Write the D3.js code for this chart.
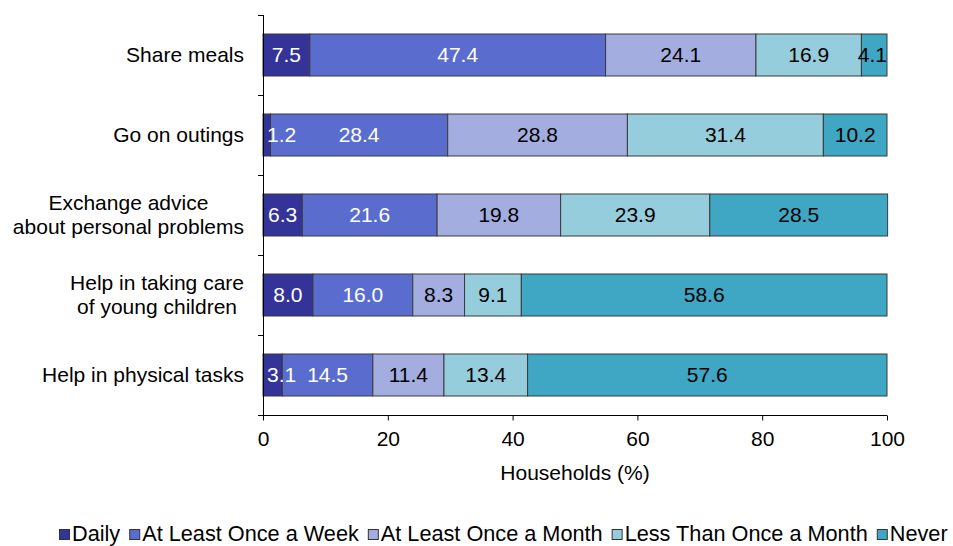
<!DOCTYPE html>
<html>
<head>
<meta charset="utf-8">
<script src="https://cdn.jsdelivr.net/npm/d3@7"></script>
<style>
  html, body { margin: 0; padding: 0; background: #fff; }
  svg { display: block; font-family: Arial, "Liberation Sans", sans-serif; }
</style>
</head>
<body>
<svg id="chart" width="953" height="546"></svg>
<script>
// Activities (top to bottom)
const categories = [
  "Share meals",
  "Go on outings",
  "Exchange advice\nabout personal problems",
  "Help in taking care\nof young children",
  "Help in physical tasks"
];
// Frequency series
const seriesNames = ["Daily", "At Least Once a Week", "At Least Once a Month", "Less Than Once a Month", "Never"];
const daily        = [7.5, 1.2, 6.3, 8.0, 3.1];
const weekly       = [47.4, 28.4, 21.6, 16.0, 14.5];
const monthly      = [24.1, 28.8, 19.8, 8.3, 11.4];
const lessMonthly  = [16.9, 31.4, 23.9, 9.1, 13.4];
const never        = [4.1, 10.2, 28.5, 58.6, 57.6];
const xTicks = [0, 20, 40, 60, 80, 100];

const colors = ["#333399", "#5a6dcf", "#a3addf", "#96cddc", "#3fa6c3"];
const labelColors = ["#fff", "#fff", "#000", "#000", "#000"];

const seriesValues = [daily, weekly, monthly, lessMonthly, never];
const rows = categories.map((c, i) => {
  const r = { cat: c };
  seriesNames.forEach((s, j) => r[s] = seriesValues[j][i]);
  return r;
});
const stacked = d3.stack().keys(seriesNames)(rows);

const svg = d3.select("#chart");
const plotLeft = 263, plotRight = 887, plotTop = 15, plotBottom = 415;
const fs = 21;

const x = d3.scaleLinear().domain([0, 100]).range([plotLeft, plotRight]);
const y = d3.scaleBand().domain(categories).range([plotTop, plotBottom])
  .paddingInner(0.475).paddingOuter(0.2375);

// bars
const g = svg.append("g");
stacked.forEach((layer, j) => {
  g.selectAll(null).data(layer).enter().append("rect")
    .attr("x", d => x(d[0]))
    .attr("y", d => y(d.data.cat))
    .attr("width", d => x(d[1]) - x(d[0]))
    .attr("height", y.bandwidth())
    .attr("fill", colors[j])
    .attr("stroke", "#3a3a3a")
    .attr("stroke-width", 1);
});

// value labels, kept inside the plot area
stacked.forEach((layer, j) => {
  layer.forEach(d => {
    const v = d[1] - d[0];
    const t = g.append("text")
      .attr("y", y(d.data.cat) + y.bandwidth() / 2)
      .attr("dy", "0.35em")
      .attr("font-size", fs)
      .attr("fill", labelColors[j])
      .text(v.toFixed(1));
    const w = t.node().getComputedTextLength();
    const cx = (x(d[0]) + x(d[1])) / 2;
    let tx = cx - w / 2;
    if (tx < plotLeft + 4) tx = plotLeft + 4;
    if (tx + w > plotRight) tx = plotRight - w;
    t.attr("x", tx);
  });
});

// y axis line and ticks at band boundaries
const ax = svg.append("g").attr("stroke", "#000").attr("stroke-width", 1);
ax.append("line").attr("x1", plotLeft + 0.5).attr("x2", plotLeft + 0.5).attr("y1", plotTop).attr("y2", plotBottom);
const step = y.step();
d3.range(categories.length + 1).map(i => plotTop + i * step).forEach(b => {
  ax.append("line").attr("x1", plotLeft - 5).attr("x2", plotLeft).attr("y1", Math.round(b) + 0.5).attr("y2", Math.round(b) + 0.5);
});

// category labels: multi-line blocks centred, block right-aligned to the axis
categories.forEach(c => {
  const lines = c.split("\n");
  const cy = y(c) + y.bandwidth() / 2;
  const lh = 24;
  const texts = lines.map((ln, k) => svg.append("text")
      .attr("y", cy + (k - (lines.length - 1) / 2) * lh)
      .attr("dy", "0.33em")
      .attr("text-anchor", "middle")
      .attr("font-size", fs)
      .attr("fill", "#000")
      .text(ln));
  const maxW = d3.max(texts, t => t.node().getComputedTextLength());
  texts.forEach(t => t.attr("x", 244 - maxW / 2));
});

// x axis
const xAxis = d3.axisBottom(x).tickValues(xTicks).tickSize(5).tickPadding(11).tickFormat(d3.format("d"));
const xg = svg.append("g").attr("transform", `translate(0,${plotBottom + 0.5})`).call(xAxis);
xg.select(".domain").attr("stroke", "#000").attr("d", `M${plotLeft},0H${plotRight}`);
xg.selectAll(".tick line").attr("stroke", "#000");
xg.selectAll(".tick text").attr("font-size", fs).attr("fill", "#000").attr("font-family", "Arial, 'Liberation Sans', sans-serif");

svg.append("text")
  .attr("x", (plotLeft + plotRight) / 2)
  .attr("y", 480)
  .attr("text-anchor", "middle")
  .attr("font-size", fs)
  .attr("fill", "#000")
  .text("Households (%)");

// legend
const lg = svg.append("g");
let lx = 59;
seriesNames.forEach((s, j) => {
  lg.append("rect").attr("x", lx + 0.5).attr("y", 529.5).attr("width", 10).attr("height", 10)
    .attr("fill", colors[j]).attr("stroke", "#333").attr("stroke-width", 1);
  const t = lg.append("text").attr("x", lx + 13).attr("y", 541)
    .attr("font-size", 21.7).attr("fill", "#000").text(s);
  lx += 13 + t.node().getComputedTextLength() + 9;
});
</script>
</body>
</html>
